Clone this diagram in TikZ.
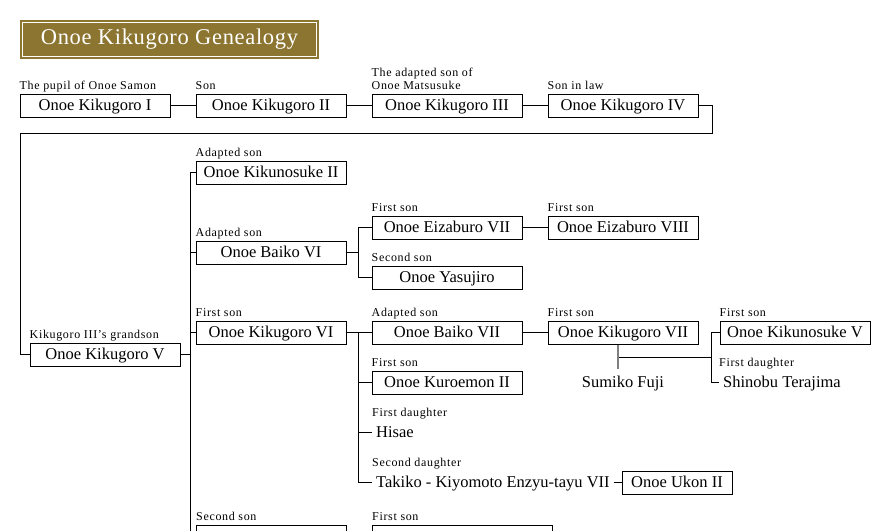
\documentclass[tikz,border=0pt]{standalone}
\usepackage{fontspec}
\setmainfont{Liberation Serif}
\newfontfamily\lblfont[LetterSpace=5.5]{Liberation Serif}
\newfontfamily\ttlfont[LetterSpace=3]{Liberation Serif}
\usetikzlibrary{positioning,calc}
\definecolor{gold}{RGB}{140,117,48}

\begin{document}
\begin{tikzpicture}[x=1pt,y=-1pt,
  box/.style={draw,rectangle,line width=1pt,minimum width=150pt,minimum height=23pt,inner sep=0pt,
    text height=12pt,text depth=2pt,font=\fontsize{16.5}{18}\selectfont},
  txt/.style={inner xsep=4pt,inner ysep=0pt,text height=12pt,text depth=2pt,font=\fontsize{16.5}{18}\selectfont},
  lbl/.style={anchor=base west,inner sep=0pt,font=\lblfont\fontsize{12}{13}\selectfont},
  ttl/.style={fill=gold,text=white,minimum width=299pt,minimum height=39pt,inner sep=0pt,
    font=\ttlfont\fontsize{22.5}{24}\selectfont},
  link/.style={line width=1pt},
  stub/.style={line width=1.8pt,draw=gray}]
\useasboundingbox (0,0) rectangle (890,530);
\clip (0,0) rectangle (890,530);

% title
\node [ttl] (ttl) at (169.5,39.5) {Onoe Kikugoro Genealogy};
\draw [white,line width=0.8pt] ([shift={(3,3)}]ttl.north west) rectangle ([shift={(-3,-3)}]ttl.south east);

% first row
\node [box] (k1) at (95,105.5) {Onoe Kikugoro I};
\node [box] (k2) at (271,105.5) {Onoe Kikugoro II};
\node [box] (k3) at (447,105.5) {Onoe Kikugoro III};
\node [box] (k4) at (623,105.5) {Onoe Kikugoro IV};
\node [lbl] (l1) at ([yshift=16.5pt]k1.west) {The pupil of Onoe Samon};
\node [lbl] (l2) at ([yshift=16.5pt]k2.west) {Son};
\node [lbl] (l3) at ([yshift=16.5pt]k3.west) {\begin{tabular}[b]{@{}l@{}}The adapted son of\\Onoe Matsusuke\end{tabular}};
\node [lbl] (l4) at ([yshift=16.5pt]k4.west) {Son in law};

% Kikugoro V and his children
\node [box] (k5) at (105,354.5) {Onoe Kikugoro V};
\node [lbl] (l5) at ([yshift=16.5pt]k5.west) {Kikugoro III’s grandson};
\node [box] (kn2) at (271,172.5) {Onoe Kikunosuke II};
\node [box] (b6) at (271,252.5) {Onoe Baiko VI};
\node [box] (k6) at (271,332.5) {Onoe Kikugoro VI};
\node [box,anchor=north west] (ss) at (196,525) {};
\node [lbl] (l6) at ([yshift=16.5pt]kn2.west) {Adapted son};
\node [lbl] (l7) at ([yshift=16.5pt]b6.west) {Adapted son};
\node [lbl] (l8) at ([yshift=16.5pt]k6.west) {First son};
\node [lbl] (l9) at ([yshift=5pt]ss.north west) {Second son};

% Baiko VI line
\node [box] (e7) at (447,227.5) {Onoe Eizaburo VII};
\node [box] (e8) at (623,227.5) {Onoe Eizaburo VIII};
\node [box] (ys) at (447,277.5) {Onoe Yasujiro};
\node [lbl] (l10) at ([yshift=16.5pt]e7.west) {First son};
\node [lbl] (l11) at ([yshift=16.5pt]e8.west) {First son};
\node [lbl] (l12) at ([yshift=16.5pt]ys.west) {Second son};

% Kikugoro VI line
\node [box] (b7) at (447,332.5) {Onoe Baiko VII};
\node [box] (k7) at (623,332.5) {Onoe Kikugoro VII};
\node [box] (kn5) at (795,332.5) {Onoe Kikunosuke V};
\node [txt] (sf) at (623,382.5) {Sumiko Fuji};
\node [txt,anchor=west] (sh) at (719,382.5) {Shinobu Terajima};
\node [box] (kr) at (447,382.5) {Onoe Kuroemon II};
\node [txt,anchor=west] (hs) at (372,432.5) {Hisae};
\node [txt,anchor=west] (tk) at (372,482.5) {Takiko - Kiyomoto Enzyu-tayu VII};
\node [box,minimum width=110pt] (uk) at (677,482.5) {Onoe Ukon II};
\node [box,anchor=north west,minimum width=180pt] (fs) at (372,525) {};
\node [lbl] (l13) at ([yshift=16.5pt]b7.west) {Adapted son};
\node [lbl] (l14) at ([yshift=16.5pt]k7.west) {First son};
\node [lbl] (l15) at ([yshift=16.5pt]kn5.west) {First son};
\node [lbl] (l16) at ([yshift=16.5pt]sh.west) {First daughter};
\node [lbl] (l17) at ([yshift=16.5pt]kr.west) {First son};
\node [lbl] (l18) at ([yshift=16.5pt]hs.west) {First daughter};
\node [lbl] (l19) at ([yshift=16.5pt]tk.west) {Second daughter};
\node [lbl] (l20) at ([yshift=5pt]fs.north west) {First son};

% connectors
\coordinate (c1) at (712,133);
\coordinate (c2) at (20,133);
\coordinate (tb) at (190,535);
\coordinate (sb) at (358,0);
\coordinate (rb) at (711,0);
\coordinate (jn) at (618,357);
\coordinate (sfu) at (618,369);
\draw [link] (k1.east) -- (k2.west);
\draw [link] (k2.east) -- (k3.west);
\draw [link] (k3.east) -- (k4.west);
\draw [link] (k4.east) -| (c1) -- (c2) |- (k5.west);
\draw [link] (kn2.west) -| (tb);
\draw [link] (b6.west) -- (b6.west -| tb);
\draw [link] (k6.west) -- (k6.west -| tb);
\draw [link] (k5.east) -- (k5.east -| tb);
\draw [link] (e7.west) -| (sb |- ys.west) -- (ys.west);
\draw [link] (b6.east) -- (b6.east -| sb);
\draw [link] (e7.east) -- (e8.west);
\draw [link] (b7.west) -| (sb |- tk.west) -- (tk.west);
\draw [link] (k6.east) -- (k6.east -| sb);
\draw [link] (kr.west) -- (kr.west -| sb);
\draw [link] (hs.west) -- (hs.west -| sb);
\draw [link] (b7.east) -- (k7.west);
\draw [link] (tk.east) -- (uk.west);
\draw [link] (kn5.west) -| (rb |- sh.west) -- (sh.west);
\draw [link] (jn) -- (jn -| rb);
\draw [stub] ([xshift=-5pt]k7.south) -- (sfu);
\end{tikzpicture}
\end{document}
